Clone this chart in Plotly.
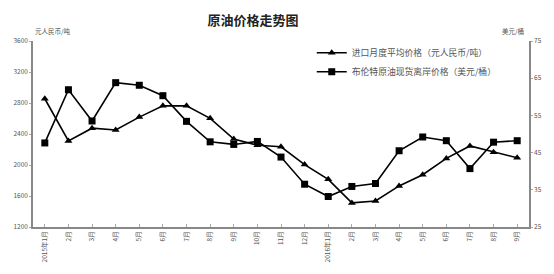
import plotly.graph_objects as go

months = ["2015年1月", "2月", "3月", "4月", "5月", "6月", "7月", "8月", "9月", "10月", "11月", "12月",
          "2016年1月", "2月", "3月", "4月", "5月", "6月", "7月", "8月", "9月"]
x_idx = list(range(len(months)))
rmb_price = [2855, 2310, 2475, 2452, 2618, 2763, 2763, 2602, 2335, 2255, 2235, 2005,
             1815, 1511, 1536, 1730, 1875, 2085, 2246, 2166, 2093]
brent_price = [47.6, 61.9, 53.5, 63.8, 63.1, 60.3, 53.4, 47.9, 47.2, 48.0, 43.8, 36.5,
               33.2, 35.9, 36.7, 45.5, 49.2, 48.2, 40.7, 47.8, 48.2]
left_ticks = [1200, 1600, 2000, 2400, 2800, 3200, 3600]
right_ticks = [25, 35, 45, 55, 65, 75]

fig = go.Figure()
fig.add_trace(go.Scatter(
    x=x_idx, y=rmb_price, name="进口月度平均价格（元人民币/吨）",
    mode="lines+markers", line=dict(color="black", width=1.6),
    marker=dict(symbol="triangle-up", size=7, color="black"), yaxis="y"))
fig.add_trace(go.Scatter(
    x=x_idx, y=brent_price, name="布伦特原油现货离岸价格（美元/桶）",
    mode="lines+markers", line=dict(color="black", width=1.6),
    marker=dict(symbol="square", size=7, color="black"), yaxis="y2"))

tick_font = dict(family="Noto Sans CJK SC", size=6.5, color="#555")

fig.update_layout(
    width=554, height=274,
    margin=dict(l=33, r=18, t=41, b=35),
    paper_bgcolor="white", plot_bgcolor="white",
    title=dict(text="<b>原油价格走势图</b>", x=253/554, xanchor="center", y=1-20/274, yanchor="middle",
               font=dict(family="Noto Sans CJK SC", size=13, color="#222")),
    xaxis=dict(tickmode="array", tickvals=x_idx, ticktext=months, range=[-0.5, 20.5],
               tickangle=-90, tickfont=tick_font, showline=True, linecolor="#888", linewidth=1.5,
               ticks="inside", ticklen=3, tickcolor="#aaa", showgrid=False, zeroline=False,
               fixedrange=True),
    yaxis=dict(range=[1200, 3600], tickvals=left_ticks, ticktext=[f"{v}" for v in left_ticks],
               tickfont=tick_font, showline=True, linecolor="#888", linewidth=1.5,
               ticks="outside", ticklen=2, tickcolor="#aaa", showgrid=False, zeroline=False),
    yaxis2=dict(range=[25, 75], tickvals=right_ticks, overlaying="y", side="right",
                tickfont=tick_font, showline=True, linecolor="#888", linewidth=1.5,
                ticks="outside", ticklen=2, tickcolor="#aaa", showgrid=False, zeroline=False),
    legend=dict(x=0.562, y=1.015, xanchor="left", yanchor="top", bgcolor="rgba(0,0,0,0)",
                font=dict(family="Noto Sans CJK SC", size=8.8, color="#555"),
                itemwidth=30, tracegroupgap=7),
    showlegend=True,
)
fig.add_annotation(text="元人民币/吨", xref="paper", yref="paper", x=-0.0, y=1+11/198,
                   xanchor="left", yanchor="middle", showarrow=False,
                   font=dict(family="Noto Sans CJK SC", size=6.5, color="#555"))
fig.add_annotation(text="美元/桶", xref="paper", yref="paper", x=(520-33)/503, y=1+11/198,
                   xanchor="center", yanchor="middle", showarrow=False,
                   font=dict(family="Noto Sans CJK SC", size=6.5, color="#555"))

fig.write_html("out.html")
